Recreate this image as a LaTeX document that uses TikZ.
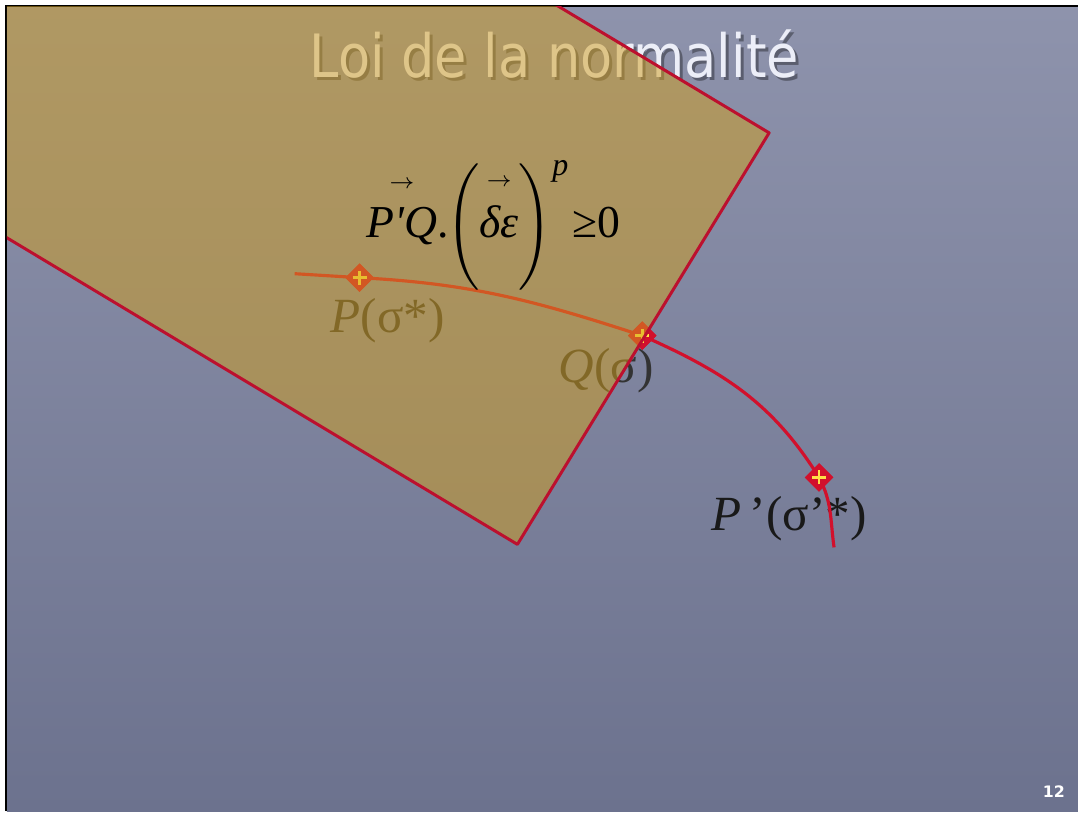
\documentclass[tikz,border=0pt]{standalone}
\usepackage{amsmath}
\usepackage{fontspec}
\setmainfont{Liberation Serif}
\newfontfamily\titlefont{DejaVu Sans}
\usetikzlibrary{shapes.geometric}
\definecolor{slidetop}{RGB}{142,147,172}
\definecolor{slidebot}{RGB}{108,114,142}
\definecolor{plate}{RGB}{210,158,28}
\definecolor{edgered}{RGB}{188,16,46}
\definecolor{curvered}{RGB}{210,16,44}
\definecolor{crossyellow}{RGB}{255,222,70}
\definecolor{titlewhite}{RGB}{236,238,248}
\newcommand{\uparr}{\raisebox{3pt}{$\scriptscriptstyle\rightarrow$}}

\begin{document}
\begin{tikzpicture}[x=0.01cm,y=0.01cm,
	  marker/.style={diamond,fill=curvered,draw=curvered,inner sep=0pt,minimum size=0.27cm,
	    path picture={\draw[crossyellow,line width=0.7pt] (path picture bounding box.center)
	      +(-7,0) -- +(7,0) +(0,-7) -- +(0,7);}},
	  curve/.style={curvered,line width=0.9pt},
	  title/.style={font=\titlefont\fontsize{17}{20}\selectfont,anchor=base,inner sep=0pt},
	  label/.style={font=\fontsize{14}{16}\selectfont,anchor=base,inner sep=0pt}]

	  % slide
	  \fill[white] (0,0) rectangle (1079,-812);
	  \shade[top color=slidetop,bottom color=slidebot] (7,-7) rectangle (1079,-812);
	  \draw[black,line width=0.7pt] (6,-812) -- (6,-6) -- (1079,-6);

	  \node[title,text=black,opacity=0.35] (shadow) at (558,-81) {\scalebox{0.88}[1]{Loi de la normalité}};
	  \node[title,text=titlewhite] (title) at (555,-78) {\scalebox{0.88}[1]{Loi de la normalité}};

	  \node[label,text=black!80] (Plab) at (388,-333) {\textit{P}(σ*)};
	  \node[label,text=black!80] (Qlab) at (607,-383) {\textit{Q}(σ)};
	  \node[label,text=black!90] (Pplab) at (790,-531) {\textit{P}\,’(σ’*)};

	  % loading path
	  \coordinate (start) at (295,-274);
	  \coordinate (finish) at (835,-548);
	  \node[marker] (P) at (360,-278) {};
	  \node[marker] (Q) at (643,-336) {};
	  \node[marker] (Pp) at (820,-478) {};
	  \path[curve]
	    (start) edge (P.center)
	    (P.center) edge[out=-3,in=162] (Q.center)
	    (Q.center) edge[out=-24,in=122] (Pp.center)
	    (Pp.center) edge[out=-62,in=98] (finish);
	  \node[marker] at (P) {};
	  \node[marker] at (Q) {};
	  \node[marker] at (Pp) {};

	  % elastic domain
	  \coordinate (c1) at (770,-133);
	  \coordinate (c2) at (518,-545);
	  \coordinate (c3) at (-168,-133);
	  \coordinate (c4) at (84,279);
	  \begin{scope}
	    \clip (7,-7) rectangle (1079,-812);
	    \fill[plate,fill opacity=0.5] (c1) -- (c2) -- (c3) -- (c4) -- cycle;
	    \draw[edgered,line width=0.85pt,line join=round] (c4) -- (c1) -- (c2) -- (c3);
	  \end{scope}

	  \node[anchor=base,inner sep=0pt,font=\fontsize{13}{16}\selectfont] (law) at (494,-238)
	    {$\overset{\uparr}{\text{\itshape P\textquotesingle Q}}\text{.}\mkern-4mu\left(\overset{\uparr}{\text{\itshape δε}}\rule[-0.45cm]{0pt}{1.16cm}\right)^{\text{\itshape p}}\mkern-2mu\text{≥0}$};

	  \node[font=\titlefont\bfseries\fontsize{4.5}{5}\selectfont,text=white] (page) at (1055,-793) {12};
\end{tikzpicture}
\end{document}
